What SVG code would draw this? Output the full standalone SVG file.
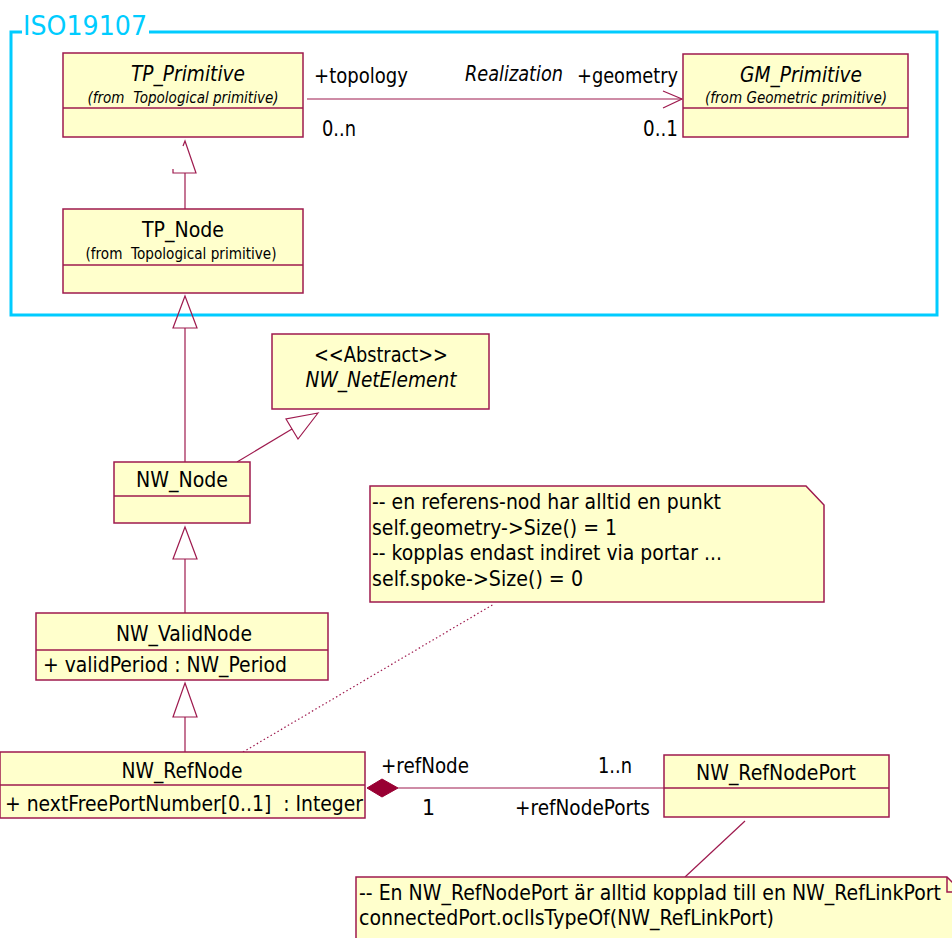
<svg xmlns="http://www.w3.org/2000/svg" width="952" height="938" viewBox="0 0 952 938">
<style>
.box{fill:#FFFFCC;stroke:#9E1A4E;stroke-width:1.5}
.sep{stroke:#9E1A4E;stroke-width:1.5;fill:none}
.t{font-family:"DejaVu Sans",Verdana,sans-serif;font-size:20.5px;fill:#000}
.it{font-style:italic}
.sm{font-size:15px}
.c{text-anchor:middle}
.conn{stroke:#9E1A4E;stroke-width:1.2;fill:none}
.pkg{stroke:#00CCFF;stroke-width:3;fill:none}
</style>
<rect width="952" height="938" fill="#FFFFFF"/>
<g id="package-ISO19107">
<path class="pkg" d="M22,32 H11 V315 H937 V32 H149"/>
<text x="23" y="35" font-family="DejaVu Sans,Verdana,sans-serif" font-size="27" fill="#00CCFF" textLength="124" lengthAdjust="spacingAndGlyphs">ISO19107</text>
</g>
<g id="connectors">
<line class="conn" x1="307" y1="99" x2="682" y2="99"/>
<polyline class="conn" points="663,91 682,99 663,108"/>
<line class="conn" x1="185" y1="209" x2="185" y2="173"/>
<polyline class="conn" points="183,146 185,141 196,173 173,173 173,169"/>
<line class="conn" x1="185" y1="462" x2="185" y2="328"/>
<polygon class="conn" points="185,296 197,328 173,328"/>
<line class="conn" x1="237" y1="462" x2="292" y2="429"/>
<polygon class="conn" points="318,413 286,419 298,439" fill="#FFFFFF"/>
<line class="conn" x1="185" y1="613" x2="185" y2="559"/>
<polygon class="conn" points="185,527 197,559 173,559" fill="#FFFFFF"/>
<line class="conn" x1="185" y1="752" x2="185" y2="717"/>
<polygon class="conn" points="185,683 197,717 173,717" fill="#FFFFFF"/>
<line class="conn" x1="243" y1="752" x2="494" y2="604" stroke-dasharray="1.5,2.5"/>
<line class="conn" x1="398" y1="788" x2="664" y2="788"/>
<polygon points="367,788 382,779 398,788 382,797" fill="#990033" stroke="#990033" stroke-width="1"/>
<line class="conn" x1="745" y1="821" x2="685" y2="877"/>
<text class="t" x="314" y="83" textLength="94" lengthAdjust="spacingAndGlyphs">+topology</text>
<text class="t it" x="465" y="81" textLength="98" lengthAdjust="spacingAndGlyphs">Realization</text>
<text class="t" x="577" y="83" textLength="101" lengthAdjust="spacingAndGlyphs">+geometry</text>
<text class="t" x="322" y="136" textLength="34" lengthAdjust="spacingAndGlyphs">0..n</text>
<text class="t" x="643" y="136" textLength="35" lengthAdjust="spacingAndGlyphs">0..1</text>
<text class="t" x="381" y="773" textLength="88" lengthAdjust="spacingAndGlyphs">+refNode</text>
<text class="t" x="598" y="773" textLength="34" lengthAdjust="spacingAndGlyphs">1..n</text>
<text class="t" x="422" y="815">1</text>
<text class="t" x="515" y="815" textLength="135" lengthAdjust="spacingAndGlyphs">+refNodePorts</text>
</g>
<g id="TP_Primitive">
<rect class="box" x="63" y="53" width="240" height="84"/>
<line class="sep" x1="63" y1="108" x2="303" y2="108"/>
<text class="t it c" x="188" y="81" textLength="114" lengthAdjust="spacingAndGlyphs">TP_Primitive</text>
<text class="t it sm c" x="183" y="103" xml:space="preserve" textLength="191" lengthAdjust="spacingAndGlyphs">(from  Topological primitive)</text>
</g>
<g id="GM_Primitive">
<rect class="box" x="683" y="54" width="225" height="83"/>
<line class="sep" x1="683" y1="108" x2="908" y2="108"/>
<text class="t it c" x="801" y="82" textLength="122" lengthAdjust="spacingAndGlyphs">GM_Primitive</text>
<text class="t it sm c" x="796" y="103" textLength="182" lengthAdjust="spacingAndGlyphs">(from Geometric primitive)</text>
</g>
<g id="TP_Node">
<rect class="box" x="63" y="209" width="240" height="84"/>
<line class="sep" x1="63" y1="265" x2="303" y2="265"/>
<text class="t c" x="183" y="237" textLength="82" lengthAdjust="spacingAndGlyphs">TP_Node</text>
<text class="t sm c" x="181" y="259" xml:space="preserve" textLength="191" lengthAdjust="spacingAndGlyphs">(from  Topological primitive)</text>
</g>
<g id="NW_NetElement">
<rect class="box" x="272" y="334" width="217" height="75"/>
<text class="t c" x="381" y="362" textLength="134" lengthAdjust="spacingAndGlyphs">&lt;&lt;Abstract&gt;&gt;</text>
<text class="t it c" x="381" y="387" textLength="151" lengthAdjust="spacingAndGlyphs">NW_NetElement</text>
</g>
<g id="NW_Node">
<rect class="box" x="114" y="462" width="136" height="61"/>
<line class="sep" x1="114" y1="496" x2="250" y2="496"/>
<text class="t c" x="182" y="487" textLength="92" lengthAdjust="spacingAndGlyphs">NW_Node</text>
</g>
<g id="note-refnode">
<path class="box" d="M370,486 H806 L824,505 V602 H370 Z"/>
<text class="t" x="372" y="509" textLength="349" lengthAdjust="spacingAndGlyphs">-- en referens-nod har alltid en punkt</text>
<text class="t" x="372" y="535" textLength="245" lengthAdjust="spacingAndGlyphs">self.geometry-&gt;Size() = 1</text>
<text class="t" x="372" y="560" textLength="350" lengthAdjust="spacingAndGlyphs">-- kopplas endast indiret via portar ...</text>
<text class="t" x="372" y="586" textLength="211" lengthAdjust="spacingAndGlyphs">self.spoke-&gt;Size() = 0</text>
</g>
<g id="NW_ValidNode">
<rect class="box" x="36" y="613" width="292" height="67"/>
<line class="sep" x1="36" y1="650" x2="328" y2="650"/>
<text class="t c" x="184" y="641" textLength="136" lengthAdjust="spacingAndGlyphs">NW_ValidNode</text>
<text class="t" x="43" y="672" textLength="244" lengthAdjust="spacingAndGlyphs">+ validPeriod : NW_Period</text>
</g>
<g id="NW_RefNode">
<rect class="box" x="0" y="752" width="365" height="66"/>
<line class="sep" x1="0" y1="785" x2="365" y2="785"/>
<text class="t c" x="182" y="778" textLength="121" lengthAdjust="spacingAndGlyphs">NW_RefNode</text>
<text class="t" x="5" y="811" xml:space="preserve" textLength="358" lengthAdjust="spacingAndGlyphs">+ nextFreePortNumber[0..1]  : Integer</text>
</g>
<g id="NW_RefNodePort">
<rect class="box" x="664" y="755" width="225" height="62"/>
<line class="sep" x1="664" y1="788" x2="889" y2="788"/>
<text class="t c" x="776" y="780" textLength="160" lengthAdjust="spacingAndGlyphs">NW_RefNodePort</text>
</g>
<g id="note-refnodeport">
<path class="box" d="M356,877 H947 L960,890 V950 H356 Z"/>
<polyline class="sep" points="947,877 947,892 960,892"/>
<text class="t" x="359" y="900" textLength="582" lengthAdjust="spacingAndGlyphs">-- En NW_RefNodePort är alltid kopplad till en NW_RefLinkPort</text>
<text class="t" x="359" y="925" textLength="415" lengthAdjust="spacingAndGlyphs">connectedPort.oclIsTypeOf(NW_RefLinkPort)</text>
</g>
</svg>
